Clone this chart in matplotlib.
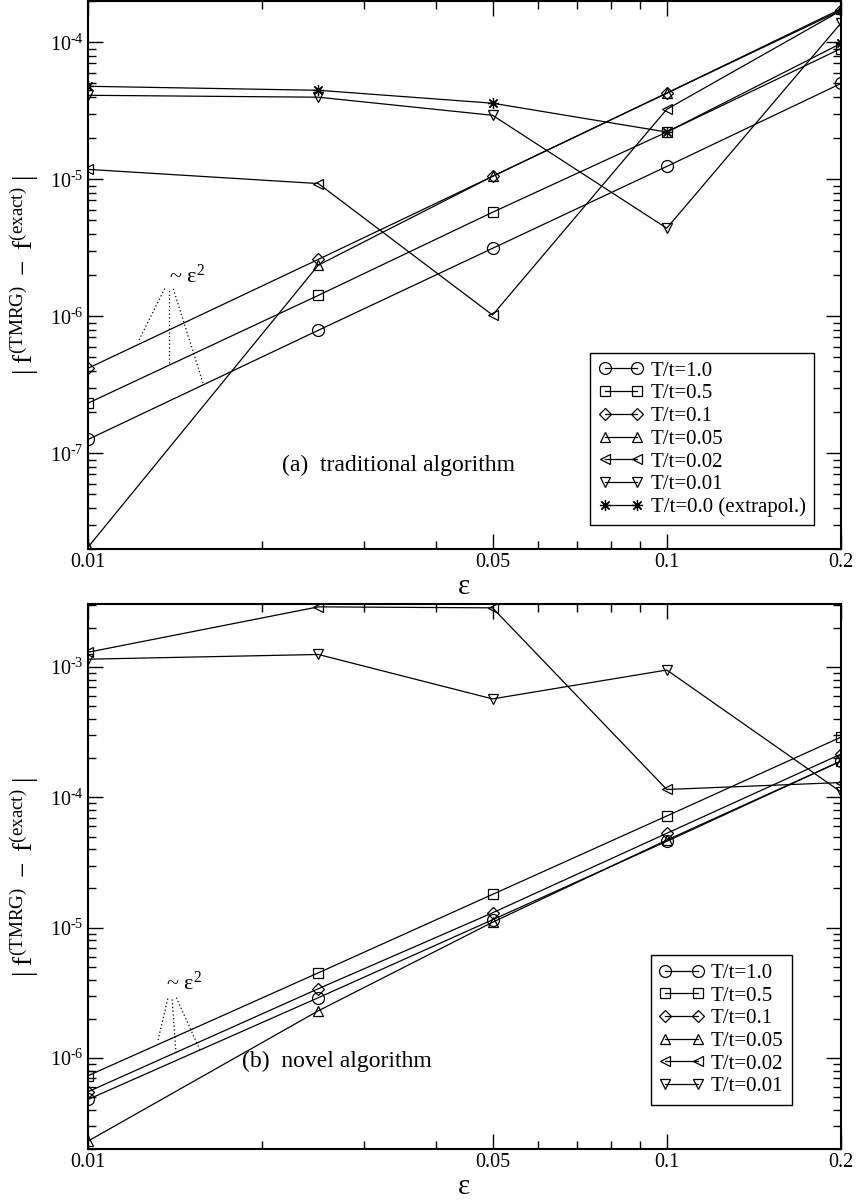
import matplotlib
matplotlib.use("Agg")
import numpy as np
import matplotlib.pyplot as plt
from matplotlib.ticker import FixedLocator, FixedFormatter, LogLocator, FuncFormatter, NullFormatter

plt.rcParams['font.family'] = ['Liberation Serif', 'DejaVu Serif']
plt.rcParams['mathtext.fontset'] = 'custom'
plt.rcParams['mathtext.rm'] = 'Liberation Serif'
plt.rcParams['mathtext.it'] = 'Liberation Serif:italic'
plt.rcParams['mathtext.default'] = 'regular'

# Trotter step sizes
eps = [0.01, 0.025, 0.05, 0.1, 0.2]

# (a) traditional algorithm: |f(TMRG) - f(exact)|
a_T1p0 = [1.26e-7, 7.9e-7, 3.13e-6, 1.24e-5, 5.0e-5]
a_T0p5 = [2.32e-7, 1.42e-6, 5.74e-6, 2.21e-5, 9.0e-5]
a_T0p1 = [4.17e-7, 2.6e-6, 1.05e-5, 4.25e-5, 1.71e-4]
a_T0p05 = [2.06e-8, 2.36e-6, 1.05e-5, 4.25e-5, 1.75e-4]
a_T0p02 = [1.18e-5, 9.3e-6, 1.02e-6, 3.24e-5, 1.7e-4]
a_T0p01 = [4.1e-5, 3.97e-5, 2.93e-5, 4.39e-6, 1.38e-4]
a_T0p0 = [4.77e-5, 4.46e-5, 3.59e-5, 2.21e-5, 9.8e-5]

# (b) novel algorithm
b_T1p0 = [4.8e-7, 2.9e-6, 1.15e-5, 4.6e-5, 1.9e-4]
b_T0p5 = [7.3e-7, 4.5e-6, 1.8e-5, 7.2e-5, 2.9e-4]
b_T0p1 = [5.5e-7, 3.4e-6, 1.3e-5, 5.3e-5, 2.15e-4]
b_T0p05 = [2.3e-7, 2.3e-6, 1.1e-5, 4.7e-5, 1.9e-4]
b_T0p02 = [1.3e-3, 2.9e-3, 2.85e-3, 1.15e-4, 1.3e-4]
b_T0p01 = [1.15e-3, 1.25e-3, 5.7e-4, 9.5e-4, 1.1e-4]

labels_a = ['T/t=1.0', 'T/t=0.5', 'T/t=0.1', 'T/t=0.05', 'T/t=0.02', 'T/t=0.01',
            'T/t=0.0 (extrapol.)']
labels_b = labels_a[:6]

x_major = [0.01, 0.05, 0.1, 0.2]
x_major_labels = ['0.01', '0.05', '0.1', '0.2']
x_minor = [0.02, 0.03, 0.04, 0.06, 0.07, 0.08, 0.09]

# marker style per series: (marker, markersize in pt)
styles = [('o', 8.6), ('s', 7.2), ('D', 6.1), ('^', 7.9), ('<', 7.9), ('v', 7.9),
          ((8, 2, 0), 8.0)]

fig = plt.figure(figsize=(8.58, 12.02), dpi=100)
ax_a = fig.add_axes([0.10256, 0.54326, 0.87762, 0.45591])
ax_b = fig.add_axes([0.10256, 0.04409, 0.87762, 0.45341])

ylabel = r'$|\ f^{(TMRG)}\ -\ f^{(exact)}\ |$'


def decade_label(v, pos):
    exp = int(round(np.log10(v)))
    return r'$10^{%s}$' % str(exp).replace('-', r'\text{-}')


def draw_panel(ax, series, labels, ylim, leg_anchor, title, title_xy,
               guide_lines, guide_text_xy):
    for ys, lab, (mk, ms) in zip(series, labels, styles):
        ax.plot(eps, ys, color='black', lw=0.9, marker=mk, ms=ms,
                mfc='none', mec='black', mew=0.9, label=lab)
    ax.set_xscale('log')
    ax.set_yscale('log')
    ax.set_xlim(0.01, 0.2)
    ax.set_ylim(*ylim)
    ax.xaxis.set_major_locator(FixedLocator(x_major))
    ax.xaxis.set_major_formatter(FixedFormatter(x_major_labels))
    ax.xaxis.set_minor_locator(FixedLocator(x_minor))
    ax.xaxis.set_minor_formatter(NullFormatter())
    ax.yaxis.set_major_locator(LogLocator(base=10, numticks=20))
    ax.yaxis.set_major_formatter(FuncFormatter(decade_label))
    ax.yaxis.set_minor_locator(LogLocator(base=10, subs=range(2, 10), numticks=20))
    ax.yaxis.set_minor_formatter(NullFormatter())
    ax.tick_params(which='both', direction='in', top=True, right=True,
                   labelsize=14.5, width=1.0, pad=3)
    ax.tick_params(which='major', length=10.5)
    ax.tick_params(which='minor', length=5.5)
    for sp in ax.spines.values():
        sp.set_linewidth(1.5)
    ax.set_xlabel('ε', fontsize=21)
    ax.xaxis.set_label_coords(0.5, -0.045)
    ax.set_ylabel(ylabel, fontsize=19.5)
    ax.yaxis.set_label_coords(-0.063, 0.5)
    leg = ax.legend(loc='upper right', bbox_to_anchor=leg_anchor, borderaxespad=0,
                    numpoints=2, fontsize=15, handlelength=2.15, handletextpad=0.35,
                    labelspacing=0.15, borderpad=0.4, fancybox=False,
                    edgecolor='black', framealpha=1)
    leg.get_frame().set_linewidth(1.0)
    ax.text(title_xy[0], title_xy[1], title, transform=ax.transAxes,
            fontsize=17, ha='center', va='center')
    for (x0, y0), (x1, y1) in guide_lines:
        ax.plot([x0, x1], [y0, y1], transform=ax.transAxes, color='black',
                lw=0.9, ls=(0, (1, 2)))
    ax.text(guide_text_xy[0], guide_text_xy[1], r'~ ε$^{2}$',
            transform=ax.transAxes, fontsize=16, ha='left', va='baseline')


draw_panel(ax_a,
           [a_T1p0, a_T0p5, a_T0p1, a_T0p05, a_T0p02, a_T0p01, a_T0p0],
           labels_a, (2e-8, 2e-4), (0.964, 0.358),
           '(a)  traditional algorithm', (0.412, 0.153),
           [((0.0677, 0.3814), (0.1023, 0.4763)),
            ((0.1076, 0.3394), (0.1076, 0.4726)),
            ((0.1527, 0.3029), (0.1129, 0.4763))],
           (0.108, 0.4854))

draw_panel(ax_b,
           [b_T1p0, b_T0p5, b_T0p1, b_T0p05, b_T0p02, b_T0p01],
           labels_b, (2e-7, 3.05e-3), (0.935, 0.356),
           '(b)  novel algorithm', (0.33, 0.16),
           [((0.0930, 0.2000), (0.1062, 0.2771)),
            ((0.1169, 0.1761), (0.1116, 0.2771)),
            ((0.1487, 0.1817), (0.1169, 0.2789))],
           (0.104, 0.2917))

fig.savefig('out.png', dpi=100)
